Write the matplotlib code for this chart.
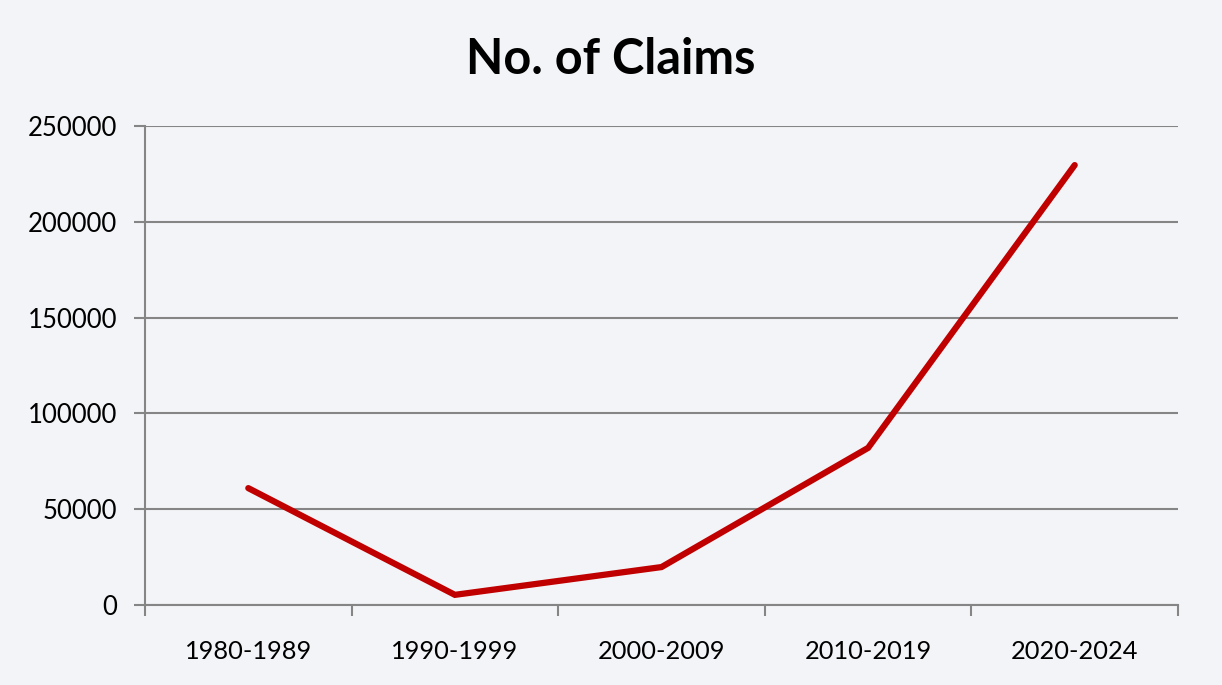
import numpy as np
import matplotlib.pyplot as plt

periods = ['1980-1989', '1990-1999', '2000-2009', '2010-2019', '2020-2024']
claims = [61000, 5300, 19800, 82000, 229600]
y_ticks = [0, 50000, 100000, 150000, 200000, 250000]

bg = '#F3F4F7'
grid_col = '#858585'
line_col = '#C00000'

plt.rcParams['font.family'] = ['Lato', 'DejaVu Sans']

fig = plt.figure(figsize=(12.22, 6.85), dpi=100, facecolor=bg)
ax = fig.add_axes([145 / 1222, 1 - 605 / 685, (1178 - 145) / 1222, (605 - 126) / 685])
ax.set_facecolor(bg)

x = np.arange(len(periods))
ax.plot(x, claims, color=line_col, lw=4.5, solid_capstyle='round', solid_joinstyle='miter', zorder=3)

ax.set_xlim(-0.5, len(periods) - 0.5)
ax.set_ylim(0, 250000)
ax.set_yticks(y_ticks)
ax.set_yticklabels([str(v) for v in y_ticks])
ax.yaxis.grid(True, color=grid_col, lw=1.5)
ax.set_axisbelow(True)

# category labels centred, tick marks on the boundaries
ax.set_xticks(x)
ax.set_xticklabels(periods)
ax.set_xticks(np.arange(-0.5, len(periods)), minor=True)
ax.tick_params(axis='x', which='major', length=0, pad=25, labelsize=18.3)
ax.tick_params(axis='x', which='minor', length=8, width=1.5, color=grid_col, direction='out')
ax.tick_params(axis='y', length=8, width=1.5, color=grid_col, pad=12, labelsize=18.5)

for side in ['top', 'right']:
    ax.spines[side].set_visible(False)
for side in ['left', 'bottom']:
    ax.spines[side].set_color(grid_col)
    ax.spines[side].set_linewidth(1.5)

fig.text(0.5, 1 - 60 / 685, 'No. of Claims', ha='center', va='center',
         fontsize=35, fontweight='bold')

fig.savefig('out.png', dpi=100, facecolor=bg)
